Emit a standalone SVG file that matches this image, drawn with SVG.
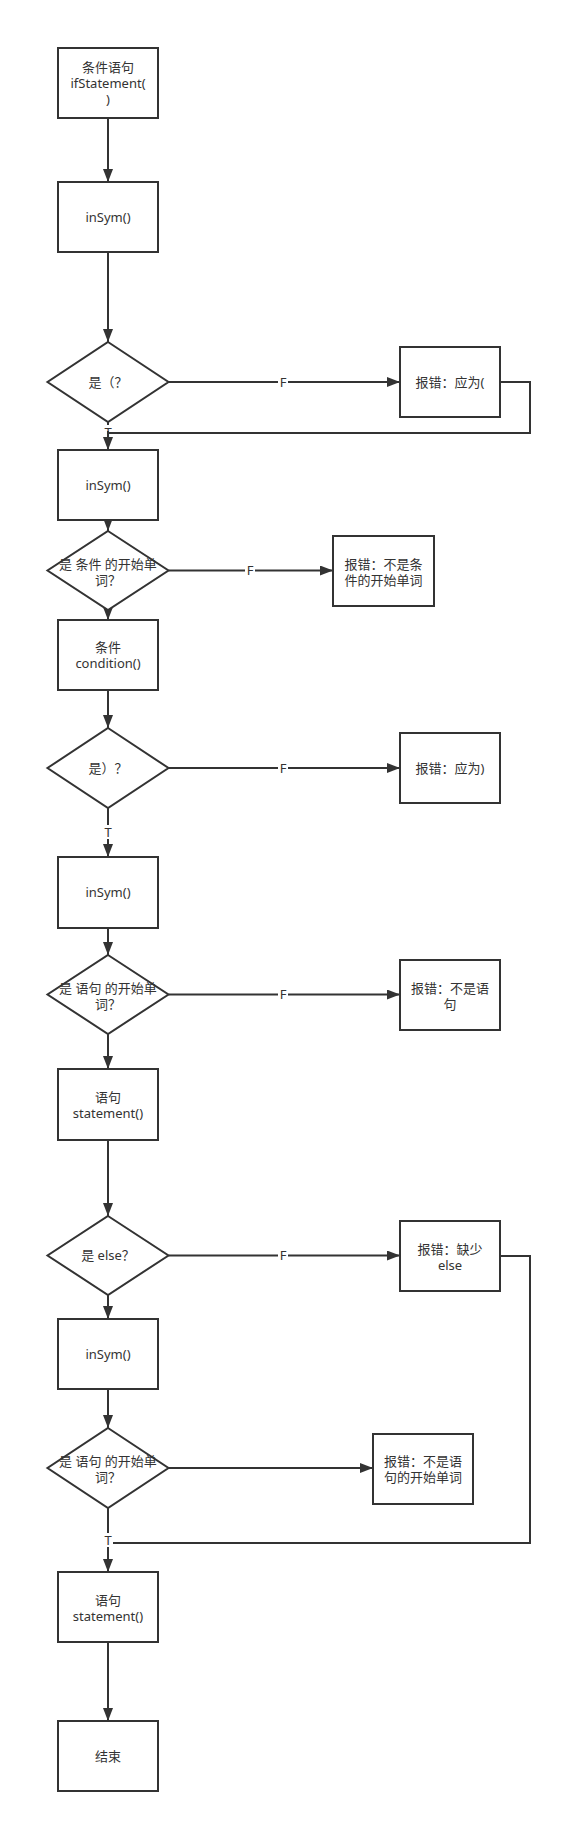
<svg xmlns="http://www.w3.org/2000/svg" width="562" height="1825" viewBox="0 0 562 1825">
<defs>
<marker id="ah" markerUnits="userSpaceOnUse" markerWidth="14" markerHeight="12" refX="13" refY="5" orient="auto">
<path d="M0,0 L13,5 L0,10 z" fill="#333"/>
</marker>
<style>
.n rect, .n polygon { fill: #fff; stroke: #333; stroke-width: 2; }
text { font-family: "Noto Sans", "Noto Sans CJK SC", sans-serif; font-size: 13px; fill: #333; text-anchor: middle; }
.c path { fill: none; stroke: #333; stroke-width: 2; }
.a { marker-end: url(#ah); }
.lbl rect { fill: #fff; stroke: none; }
</style>
</defs>
<rect width="562" height="1825" fill="#fff"/>

<g class="c">
<path class="a" d="M108,118 V182"/>
<path class="a" d="M108,252 V342"/>
<path class="a" d="M168.5,382 H400"/>
<path d="M500,382 H530 V433 H108"/>
<path class="a" d="M108,422 V450"/>
<path class="a" d="M108,520 V531"/>
<path class="a" d="M168.5,570.5 H333"/>
<path class="a" d="M108,610 V620"/>
<path class="a" d="M108,690 V728"/>
<path class="a" d="M168.5,768 H400"/>
<path class="a" d="M108,808 V857"/>
<path class="a" d="M108,928 V955"/>
<path class="a" d="M168.5,994.5 H400"/>
<path class="a" d="M108,1034 V1069"/>
<path class="a" d="M108,1140 V1216"/>
<path class="a" d="M168.5,1255.5 H400"/>
<path class="a" d="M108,1295 V1319"/>
<path d="M500,1256 H530 V1543 H108"/>
<path class="a" d="M108,1389 V1428"/>
<path class="a" d="M168.5,1468 H373"/>
<path class="a" d="M108,1508 V1572"/>
<path class="a" d="M108,1642 V1721"/>
<g class="lbl">
<rect x="278" y="375" width="10" height="14"/><text x="283" y="386.5">F</text>
<rect x="103.5" y="425" width="9" height="6"/><text x="108" y="437">T</text>
<rect x="245" y="563" width="10" height="14"/><text x="250" y="575">F</text>
<rect x="278" y="761" width="10" height="14"/><text x="283" y="772.5">F</text>
<rect x="103" y="825" width="10" height="14"/><text x="108" y="836.5">T</text>
<rect x="278" y="987" width="10" height="14"/><text x="283" y="999">F</text>
<rect x="278" y="1248" width="10" height="14"/><text x="283" y="1260">F</text>
<rect x="103" y="1533" width="10" height="14"/><text x="108" y="1544.5">T</text>
</g>
</g>

<g class="n" id="n1"><rect x="58" y="48" width="100" height="70"/><text x="108" y="72">条件语句</text><text x="108" y="88">ifStatement(</text><text x="108" y="104">)</text></g>
<g class="n" id="n2"><rect x="58" y="182" width="100" height="70"/><text x="108" y="221.5">inSym()</text></g>
<g class="n" id="n3"><polygon points="108,342 168.5,382 108,422 47.5,382"/><text x="108" y="386.5">是（？</text></g>
<g class="n" id="n4"><rect x="400" y="347" width="100" height="70"/><text x="450" y="386.5">报错：应为(</text></g>
<g class="n" id="n5"><rect x="58" y="450" width="100" height="70"/><text x="108" y="489.5">inSym()</text></g>
<g class="n" id="n6"><polygon points="108,531 168.5,570.5 108,610 47.5,570.5"/><text x="108" y="568.5">是 条件 的开始单</text><text x="108" y="584.5">词？</text></g>
<g class="n" id="n7"><rect x="333" y="536" width="101" height="70"/><text x="383.5" y="568.5">报错：不是条</text><text x="383.5" y="584.5">件的开始单词</text></g>
<g class="n" id="n8"><rect x="58" y="620" width="100" height="70"/><text x="108" y="651.5">条件</text><text x="108" y="667.5">condition()</text></g>
<g class="n" id="n9"><polygon points="108,728 168.5,768 108,808 47.5,768"/><text x="108" y="772.5">是）？</text></g>
<g class="n" id="n10"><rect x="400" y="733" width="100" height="70"/><text x="450" y="772.5">报错：应为)</text></g>
<g class="n" id="n11"><rect x="58" y="857" width="100" height="71"/><text x="108" y="897">inSym()</text></g>
<g class="n" id="n12"><polygon points="108,955 168.5,994.5 108,1034 47.5,994.5"/><text x="108" y="992.5">是 语句 的开始单</text><text x="108" y="1008.5">词？</text></g>
<g class="n" id="n13"><rect x="400" y="960" width="100" height="70"/><text x="450" y="992.5">报错：不是语</text><text x="450" y="1008.5">句</text></g>
<g class="n" id="n14"><rect x="58" y="1069" width="100" height="71"/><text x="108" y="1101.5">语句</text><text x="108" y="1117.5">statement()</text></g>
<g class="n" id="n15"><polygon points="108,1216 168.5,1255.5 108,1295 47.5,1255.5"/><text x="108" y="1260">是 else？</text></g>
<g class="n" id="n16"><rect x="400" y="1221" width="100" height="70"/><text x="450" y="1253.5">报错：缺少</text><text x="450" y="1269.5">else</text></g>
<g class="n" id="n17"><rect x="58" y="1319" width="100" height="70"/><text x="108" y="1359">inSym()</text></g>
<g class="n" id="n18"><polygon points="108,1428 168.5,1468 108,1508 47.5,1468"/><text x="108" y="1466">是 语句 的开始单</text><text x="108" y="1482">词？</text></g>
<g class="n" id="n19"><rect x="373" y="1434" width="100" height="70"/><text x="423" y="1466">报错：不是语</text><text x="423" y="1482">句的开始单词</text></g>
<g class="n" id="n20"><rect x="58" y="1572" width="100" height="70"/><text x="108" y="1604.5">语句</text><text x="108" y="1620.5">statement()</text></g>
<g class="n" id="n21"><rect x="58" y="1721" width="100" height="70"/><text x="108" y="1760.5">结束</text></g>
</svg>
